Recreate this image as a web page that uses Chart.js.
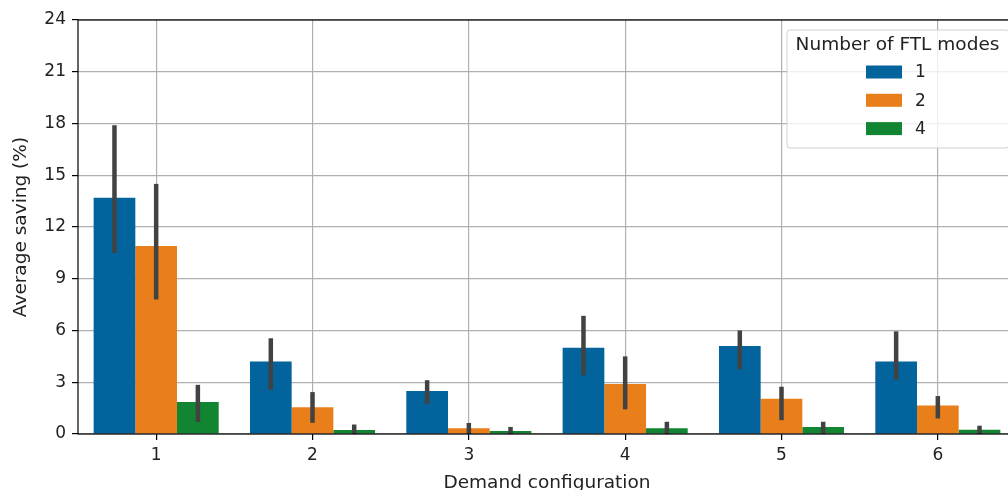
<!DOCTYPE html>
<html>
<head>
<meta charset="utf-8">
<script src="https://cdn.jsdelivr.net/npm/chart.js@4"></script>
<style>
  html, body { margin: 0; padding: 0; background: #fff; overflow: hidden; }
  #wrap { width: 1008px; height: 490px; overflow: hidden; }
</style>
</head>
<body>
<div id="wrap"><canvas id="chart" width="1024" height="500"></canvas></div>
<script>
// demand configurations and FTL mode series
const categories = ['1', '2', '3', '4', '5', '6'];
const modes = ['1', '2', '4'];
const colors = ['#02639d', '#e87f1a', '#118531'];

// mean saving per configuration
const mean1 = [13.7, 4.2, 2.5, 5.0, 5.1, 4.2];
const mean2 = [10.9, 1.55, 0.33, 2.9, 2.05, 1.65];
const mean4 = [1.85, 0.23, 0.17, 0.33, 0.4, 0.25];

// confidence interval ends
const low1 = [10.5, 2.55, 1.75, 3.4, 3.75, 3.15];
const high1 = [17.9, 5.55, 3.12, 6.85, 6.0, 5.95];
const low2 = [7.8, 0.65, 0.0, 1.43, 0.8, 0.9];
const high2 = [14.5, 2.43, 0.64, 4.5, 2.74, 2.2];
const low4 = [0.7, 0.0, 0.0, 0.0, 0.0, 0.0];
const high4 = [2.85, 0.55, 0.41, 0.71, 0.71, 0.48];

const yTicks = [0, 3, 6, 9, 12, 15, 18, 21, 24];

const means = [mean1, mean2, mean4];
const lows = [low1, low2, low4];
const highs = [high1, high2, high4];

const FONT = 'DejaVu Sans';

// error bars on top of each bar
const errorBars = {
    id: 'errorBars',
    afterDatasetsDraw(chart) {
        const ctx = chart.ctx;
        const y = chart.scales.y;
        ctx.save();
        ctx.strokeStyle = '#424242';
        ctx.lineWidth = 4.5;
        ctx.lineCap = 'butt';
        chart.data.datasets.forEach(function (ds, i) {
            const meta = chart.getDatasetMeta(i);
            meta.data.forEach(function (bar, j) {
                ctx.beginPath();
                ctx.moveTo(bar.x, y.getPixelForValue(lows[i][j]));
                ctx.lineTo(bar.x, y.getPixelForValue(highs[i][j]));
                ctx.stroke();
            });
        });
        ctx.restore();
    }
};

// frame + legend box like matplotlib
const frameLegend = {
    id: 'frameLegend',
    afterDraw(chart) {
        const ctx = chart.ctx;
        const a = chart.chartArea;
        ctx.save();
        ctx.strokeStyle = '#000';
        ctx.lineWidth = 1.2;
        ctx.strokeRect(a.left, a.top, a.right - a.left, a.bottom - a.top);

        // legend
        const bx = 787, by = 30, bw = 222, bh = 118;
        ctx.globalAlpha = 0.8;
        ctx.fillStyle = '#fff';
        ctx.beginPath();
        ctx.roundRect(bx, by, bw, bh, 3);
        ctx.fill();
        ctx.globalAlpha = 1;
        ctx.strokeStyle = '#d0d0d0';
        ctx.lineWidth = 1;
        ctx.stroke();

        ctx.fillStyle = '#222';
        ctx.font = '18.5px ' + FONT;
        ctx.textAlign = 'center';
        ctx.textBaseline = 'middle';
        ctx.fillText('Number of FTL modes', 897.5, 45);

        ctx.font = '17px ' + FONT;
        ctx.textAlign = 'left';
        modes.forEach(function (m, i) {
            const cy = 72 + i * 28.3;
            ctx.fillStyle = colors[i];
            ctx.fillRect(866, cy - 6.5, 36, 13);
            ctx.fillStyle = '#222';
            ctx.fillText(m, 915, cy + 1);
        });
        ctx.restore();
    }
};

new Chart(document.getElementById('chart').getContext('2d'), {
    type: 'bar',
    data: {
        labels: categories,
        datasets: modes.map(function (m, i) {
            return {
                label: m,
                data: means[i],
                backgroundColor: colors[i],
                borderWidth: 0,
                categoryPercentage: 0.8,
                barPercentage: 1.0
            };
        })
    },
    options: {
        responsive: false,
        animation: false,
        layout: { padding: { top: 20, right: 8, left: 0, bottom: 0 } },
        plugins: {
            legend: { display: false },
            tooltip: { enabled: false }
        },
        scales: {
            x: {
                grid: {
                    offset: false,
                    color: '#b0b0b0',
                    lineWidth: 1.2,
                    tickColor: '#000',
                    tickLength: 6
                },
                border: { display: false },
                ticks: { color: '#222', font: { family: FONT, size: 17 }, padding: 5 },
                title: {
                    display: true,
                    text: 'Demand configuration',
                    color: '#222',
                    font: { family: FONT, size: 18.5 },
                    padding: { top: 4, bottom: 6 }
                },
                afterFit: function (scale) { scale.height = 66; }
            },
            y: {
                min: 0,
                max: 24,
                afterBuildTicks: function (scale) {
                    scale.ticks = yTicks.map(function (v) { return { value: v }; });
                },
                grid: {
                    color: '#b0b0b0',
                    lineWidth: 1.2,
                    tickColor: '#000',
                    tickLength: 6
                },
                border: { display: false },
                ticks: { color: '#222', font: { family: FONT, size: 17 }, padding: 6 },
                title: {
                    display: true,
                    text: 'Average saving (%)',
                    color: '#222',
                    font: { family: FONT, size: 18.5 },
                    padding: { top: 10, bottom: 4 }
                },
                afterFit: function (scale) { scale.width = 78; }
            }
        }
    },
    plugins: [errorBars, frameLegend]
});
</script>
</body>
</html>
